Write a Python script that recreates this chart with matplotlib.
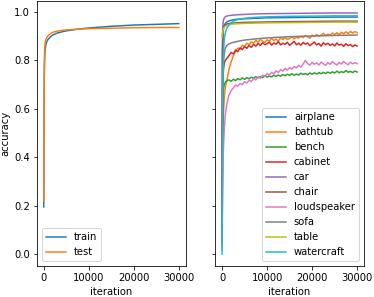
import matplotlib
matplotlib.use("Agg")
import matplotlib.pyplot as plt

#  Iterations at which accuracy was logged
iters_sparse = [0, 100, 200, 300, 500, 750, 1000, 1500, 2000, 3000, 4000, 5000,
                7500, 10000, 15000, 20000, 25000, 30000]
iters_dense = [0, 100, 200, 300, 500, 750] + list(range(1000, 30001, 500))

#  Overall accuracy (left panel)
train_acc = [0.195, 0.72, 0.81, 0.845, 0.868, 0.88, 0.887, 0.897, 0.904, 0.912,
             0.917, 0.921, 0.928, 0.933, 0.94, 0.945, 0.948, 0.951]
test_acc = [0.22, 0.78, 0.85, 0.872, 0.887, 0.896, 0.902, 0.91, 0.915, 0.92,
            0.923, 0.925, 0.928, 0.93, 0.932, 0.934, 0.935, 0.935]

#  Per-class accuracy (right panel)
classes = ["airplane", "bathtub", "bench", "cabinet", "car", "chair",
           "loudspeaker", "sofa", "table", "watercraft"]

airplane = [0.1, 0.82, 0.9, 0.93, 0.945, 0.952, 0.957, 0.962, 0.965, 0.968,
            0.97, 0.971, 0.973, 0.975, 0.976, 0.977, 0.978, 0.978]
car = [0.25, 0.9, 0.95, 0.965, 0.975, 0.979, 0.982, 0.984, 0.985, 0.987,
       0.988, 0.989, 0.991, 0.992, 0.993, 0.994, 0.995, 0.995]
chair = [0.2, 0.85, 0.92, 0.935, 0.943, 0.947, 0.949, 0.951, 0.952, 0.954,
         0.955, 0.956, 0.957, 0.958, 0.959, 0.96, 0.961, 0.961]
sofa = [0.05, 0.55, 0.72, 0.79, 0.83, 0.85, 0.86, 0.867, 0.871, 0.876,
        0.88, 0.883, 0.888, 0.892, 0.897, 0.9, 0.902, 0.904]
table = [0.895, 0.91, 0.922, 0.93, 0.936, 0.94, 0.943, 0.946, 0.948, 0.95,
         0.951, 0.952, 0.953, 0.954, 0.955, 0.956, 0.957, 0.957]
watercraft = [0.0, 0.55, 0.75, 0.83, 0.89, 0.915, 0.93, 0.945, 0.955, 0.965,
              0.97, 0.973, 0.977, 0.979, 0.981, 0.982, 0.983, 0.983]

bathtub = [0.03, 0.35, 0.5, 0.58, 0.65, 0.69,
           0.71, 0.76, 0.792, 0.818, 0.838, 0.85, 0.846, 0.862, 0.858, 0.87,
           0.864, 0.876, 0.871, 0.882, 0.874, 0.886, 0.878, 0.873, 0.884, 0.879,
           0.89, 0.881, 0.887, 0.879, 0.892, 0.885, 0.894, 0.886, 0.889, 0.897,
           0.888, 0.895, 0.891, 0.899, 0.893, 0.902, 0.896, 0.891, 0.903, 0.897,
           0.906, 0.899, 0.904, 0.911, 0.902, 0.908, 0.903, 0.912, 0.906, 0.913,
           0.905, 0.915, 0.909, 0.917, 0.91, 0.919, 0.912, 0.918, 0.914]
cabinet = [0.1, 0.55, 0.7, 0.76, 0.79, 0.8,
           0.806, 0.818, 0.832, 0.826, 0.842, 0.835, 0.851, 0.844, 0.856, 0.849,
           0.861, 0.853, 0.866, 0.858, 0.869, 0.861, 0.872, 0.864, 0.868, 0.875,
           0.862, 0.871, 0.866, 0.877, 0.863, 0.87, 0.865, 0.874, 0.861, 0.869,
           0.878, 0.864, 0.87, 0.862, 0.873, 0.866, 0.871, 0.86, 0.868, 0.875,
           0.863, 0.869, 0.858, 0.872, 0.864, 0.87, 0.861, 0.867, 0.859, 0.871,
           0.862, 0.866, 0.857, 0.868, 0.86, 0.865, 0.856, 0.863, 0.859]
loudspeaker = [0.02, 0.2, 0.35, 0.43, 0.52, 0.58,
               0.612, 0.655, 0.674, 0.686, 0.697, 0.693, 0.704, 0.699, 0.711, 0.706,
               0.718, 0.712, 0.724, 0.719, 0.731, 0.726, 0.738, 0.733, 0.745, 0.739,
               0.75, 0.744, 0.756, 0.749, 0.761, 0.755, 0.766, 0.759, 0.77, 0.763,
               0.774, 0.768, 0.779, 0.772, 0.784, 0.799, 0.786, 0.779, 0.791, 0.783,
               0.789, 0.78, 0.792, 0.785, 0.779, 0.79, 0.783, 0.794, 0.786, 0.78,
               0.791, 0.784, 0.795, 0.787, 0.781, 0.792, 0.785, 0.79, 0.786]
bench = [0.1, 0.5, 0.64, 0.68, 0.7, 0.71,
         0.714, 0.719, 0.713, 0.721, 0.716, 0.724, 0.719, 0.727, 0.721, 0.728,
         0.723, 0.73, 0.725, 0.732, 0.727, 0.733, 0.728, 0.736, 0.73, 0.735,
         0.731, 0.738, 0.733, 0.739, 0.734, 0.741, 0.736, 0.742, 0.737, 0.744,
         0.738, 0.743, 0.739, 0.746, 0.741, 0.745, 0.74, 0.747, 0.742, 0.748,
         0.743, 0.749, 0.744, 0.75, 0.745, 0.751, 0.746, 0.752, 0.747, 0.755,
         0.748, 0.753, 0.749, 0.757, 0.75, 0.754, 0.749, 0.755, 0.751]

class_series = {
    "airplane": (iters_sparse, airplane),
    "bathtub": (iters_dense, bathtub),
    "bench": (iters_dense, bench),
    "cabinet": (iters_dense, cabinet),
    "car": (iters_sparse, car),
    "chair": (iters_sparse, chair),
    "loudspeaker": (iters_dense, loudspeaker),
    "sofa": (iters_sparse, sofa),
    "table": (iters_sparse, table),
    "watercraft": (iters_sparse, watercraft),
}

fig, (ax1, ax2) = plt.subplots(1, 2, sharey=True, figsize=(374 / 72, 297 / 72), dpi=72)

ax1.plot(iters_sparse, train_acc, label="train")
ax1.plot(iters_sparse, test_acc, label="test")
ax1.set_xlabel("iteration")
ax1.set_ylabel("accuracy")
ax1.legend(loc="lower left")

for name in classes:
    x, y = class_series[name]
    assert len(x) == len(y), name
    ax2.plot(x, y, label=name)
ax2.set_xlabel("iteration")
ax2.legend(loc="lower right")

fig.subplots_adjust(left=0.099, right=0.973, bottom=0.104, top=0.997, wspace=0.2)
fig.savefig("out.png", dpi=72)
